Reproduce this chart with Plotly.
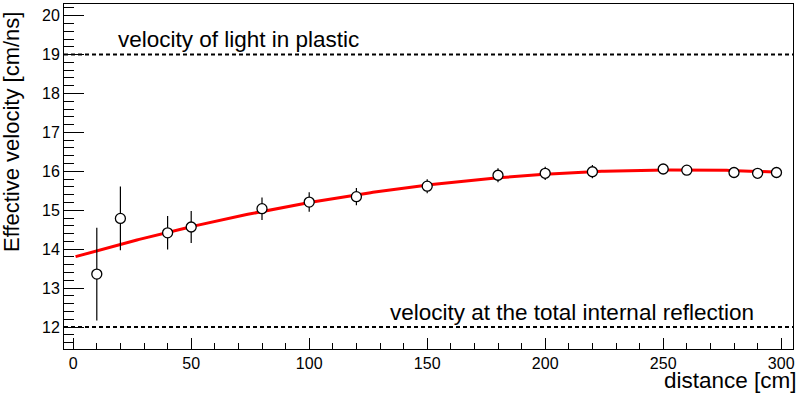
import plotly.graph_objects as go
import numpy as np

# Data
distance = [10, 20, 40, 50, 80, 100, 120, 150, 180, 200, 220, 250, 260, 280, 290, 298]
velocity = [13.36, 14.79, 14.42, 14.57, 15.04, 15.21, 15.35, 15.62, 15.90, 15.95,
            15.99, 16.06, 16.03, 15.97, 15.95, 15.97]
velocity_err = [1.19, 0.82, 0.43, 0.41, 0.29, 0.25, 0.22, 0.18, 0.18, 0.17,
                0.17, 0.12, 0.12, 0.10, 0.10, 0.10]

# pol2 fit parameters (p0 + p1*x + p2*x^2)
fit_coeffs = [13.79, 0.01746, -3.39e-5]
fit_range = [1, 300]

light_velocity = 19.0
tir_velocity = 12.0

FONT = "Liberation Sans, Arial, Helvetica, sans-serif"

xf = np.linspace(fit_range[0], fit_range[1], 300)
yf = fit_coeffs[0] + fit_coeffs[1] * xf + fit_coeffs[2] * xf ** 2

fig = go.Figure()
fig.add_trace(go.Scatter(
    x=xf, y=yf, mode="lines", line=dict(color="#ff0000", width=3),
    hoverinfo="skip", showlegend=False))
fig.add_trace(go.Scatter(
    x=distance, y=velocity, mode="markers",
    marker=dict(symbol="circle", size=10, color="white",
                line=dict(color="black", width=1.3)),
    error_y=dict(type="data", array=velocity_err, visible=True,
                 color="black", thickness=1.2, width=0),
    showlegend=False))

for yv in (light_velocity, tir_velocity):
    fig.add_shape(type="line", xref="paper", x0=0, x1=1, yref="y", y0=yv, y1=yv,
                  line=dict(color="black", width=2, dash="4px,3px"))

fig.add_annotation(x=18, y=light_velocity + 0.02, xref="x", yref="y",
                   text="velocity of light in plastic", showarrow=False,
                   xanchor="left", yanchor="bottom",
                   font=dict(family=FONT, size=22.5, color="black"))
fig.add_annotation(x=133.5, y=tir_velocity + 0.01, xref="x", yref="y",
                   text="velocity at the total internal reflection", showarrow=False,
                   xanchor="left", yanchor="bottom",
                   font=dict(family=FONT, size=22.5, color="black"))

fig.add_annotation(x=0, y=1, xref="paper", yref="paper", xshift=-53, yshift=-6,
                   text="Effective velocity [cm/ns]", textangle=-90, showarrow=False,
                   xanchor="center", yanchor="top",
                   font=dict(family=FONT, size=22, color="black"))
fig.add_annotation(x=1, y=0, xref="paper", yref="paper", xshift=5, yshift=-31,
                   text="distance [cm]", showarrow=False, borderpad=0,
                   xanchor="right", yanchor="middle",
                   font=dict(family=FONT, size=22.5, color="black"))

fig.update_layout(
    width=806, height=394,
    margin=dict(l=64, r=13, t=4, b=45),
    plot_bgcolor="white", paper_bgcolor="white",
    font=dict(family=FONT, size=16, color="black"),
)
fig.update_xaxes(
    range=[-3.9, 305], showgrid=False, zeroline=False,
    showline=True, mirror=True, linecolor="black", linewidth=1,
    ticks="inside", ticklen=11, tickwidth=1, tickcolor="black",
    tick0=0, dtick=50,
    minor=dict(ticks="inside", ticklen=6, dtick=10, tick0=0, tickcolor="black", showgrid=False),
    tickfont=dict(family=FONT, size=16, color="black"),
)
fig.update_yaxes(
    range=[11.435, 20.30], showgrid=False, zeroline=False,
    showline=True, mirror=True, linecolor="black", linewidth=1,
    ticks="inside", ticklen=20, tickwidth=1, tickcolor="black",
    tick0=0, dtick=1,
    minor=dict(ticks="inside", ticklen=10, dtick=0.2, tick0=0, tickcolor="black", showgrid=False),
    tickfont=dict(family=FONT, size=16, color="black"),
)

fig.write_html(
    "out.html",
    config={"displayModeBar": False},
    post_script="document.body.style.margin='0';document.body.style.overflow='hidden';",
)
